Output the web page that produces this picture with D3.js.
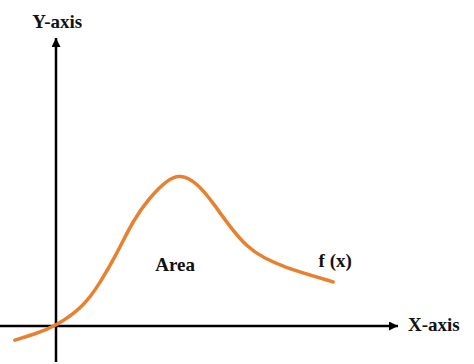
<!DOCTYPE html>
<head>
<meta charset="utf-8">
<style>
body, html {
  margin: 0;
  padding: 0;
  background: #fff;
}
.axis-line {
  stroke: #000;
  stroke-width: 2.5;
}
.curve {
  fill: none;
  stroke: #e8812f;
  stroke-width: 3.5;
  stroke-linecap: round;
}
.lbl {
  font-family: "Liberation Serif", serif;
  font-weight: bold;
  font-size: 19px;
  fill: #111;
}
</style>
<script src="https://d3js.org/d3.v7.min.js"></script>
</head>
<body>
<script>

// curve f(x) (abstract units)
var fx = [-1.03, -0.53, 0, 0.68, 1.1, 1.53, 1.93, 2.35, 2.78, 3.1, 3.53, 3.93, 4.35, 4.78, 5.18, 5.78, 6.35, 6.93];
var fy = [-0.47, -0.27, 0, 0.63, 1.43, 2.43, 3.53, 4.3, 4.87, 5.06, 4.77, 4.1, 3.3, 2.63, 2.27, 1.93, 1.7, 1.47];

// axis extents
var xAxisExtent = [-1.4, 8.55];
var yAxisExtent = [-1.2, 9.6];

var labels = ["Y-axis", "X-axis", "Area", "f (x)"];
var labelPos = [[0.03, 9.93], [8.8, -0.17], [2.98, 1.83], [6.98, 1.97]];

var width = 474,
    height = 364;

var x = d3.scaleLinear().domain([0, 10]).range([56, 456]);
var y = d3.scaleLinear().domain([0, 10]).range([326, 26]);

var svg = d3.select("body").append("svg")
    .attr("width", width)
    .attr("height", height);

var defs = svg.append("defs");
defs.append("marker")
    .attr("id", "arrow")
    .attr("viewBox", "0 0 10 10")
    .attr("refX", 10)
    .attr("refY", 5)
    .attr("markerUnits", "userSpaceOnUse")
    .attr("markerWidth", 11)
    .attr("markerHeight", 9)
    .attr("orient", "auto")
  .append("path")
    .attr("d", "M0,0L10,5L0,10Z")
    .attr("fill", "#000");

// x axis
svg.append("line")
    .attr("class", "axis-line")
    .attr("x1", x(xAxisExtent[0])).attr("y1", y(0))
    .attr("x2", x(xAxisExtent[1])).attr("y2", y(0))
    .attr("marker-end", "url(#arrow)");

// y axis
svg.append("line")
    .attr("class", "axis-line")
    .attr("x1", x(0)).attr("y1", y(yAxisExtent[0]))
    .attr("x2", x(0)).attr("y2", y(yAxisExtent[1]))
    .attr("marker-end", "url(#arrow)");

// smoothing spline, the points are hand-read so a through-points curve wiggles
var line = d3.line()
    .x(function(d) { return x(d[0]); })
    .y(function(d) { return y(d[1]); })
    .curve(d3.curveBasis);

svg.append("path")
    .datum(d3.zip(fx, fy))
    .attr("class", "curve")
    .attr("d", line);

svg.selectAll("text.lbl")
    .data(labels)
  .enter().append("text")
    .attr("class", "lbl")
    .attr("x", function(d, i) { return x(labelPos[i][0]); })
    .attr("y", function(d, i) { return y(labelPos[i][1]); })
    .attr("text-anchor", function(d, i) { return i === 1 ? "start" : "middle"; })
    .text(function(d) { return d; });

</script>
</body>
</html>
